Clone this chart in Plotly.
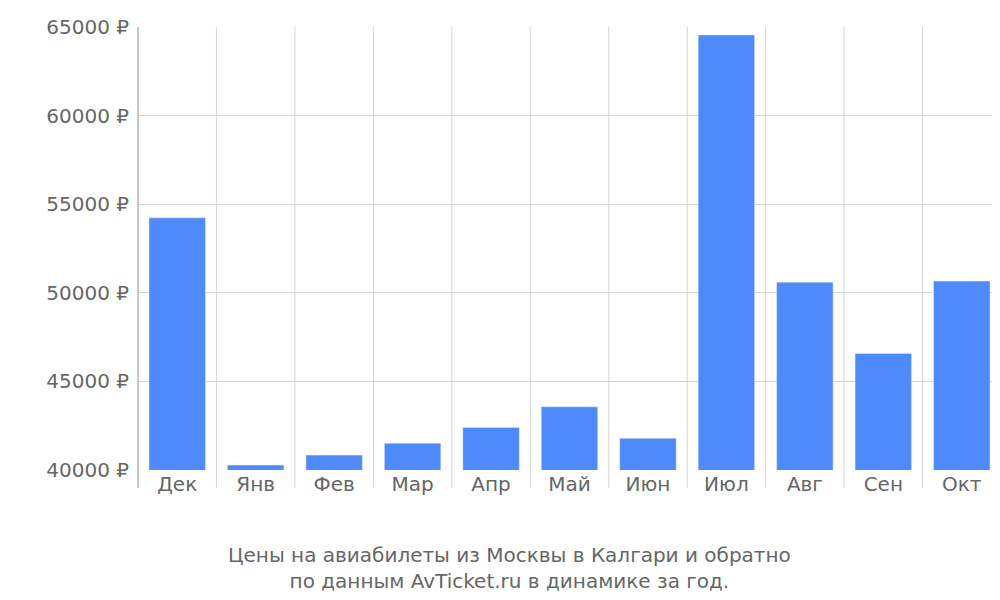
import plotly.graph_objects as go

months = ['Дек', 'Янв', 'Фев', 'Мар', 'Апр', 'Май', 'Июн', 'Июл', 'Авг', 'Сен', 'Окт']
prices = [54230, 40280, 40840, 41510, 42400, 43570, 41790, 64550, 50600, 46580, 50660]
y_ticks = [40000, 45000, 50000, 55000, 60000, 65000]

fig = go.Figure(go.Bar(x=months, y=prices, marker_color='#4e8af9', width=0.72))

# vertical grid lines between categories, extending below the plot as ticks
shapes = []
for i in range(len(months) + 1):
    shapes.append(dict(type='line', xref='x', yref='paper', x0=i - 0.5, x1=i - 0.5,
                       y0=-0.04, y1=1, line=dict(color='#d5d5d5', width=1), layer='below'))
shapes.append(dict(type='line', xref='paper', yref='paper', x0=0, x1=0, y0=-0.04, y1=1,
                   line=dict(color='#999999', width=1)))

fig.update_layout(
    width=1000, height=600,
    margin=dict(l=130, r=7, t=14, b=138),
    plot_bgcolor='white', paper_bgcolor='white',
    font=dict(family='DejaVu Sans', size=20, color='#666666'),
    showlegend=False,
    shapes=shapes,
    xaxis=dict(showgrid=False, ticks='', tickfont=dict(size=20), range=[-0.5, 10.5]),
    yaxis=dict(range=[40000, 65000], tickvals=y_ticks,
               ticktext=[f'{v} ₽' for v in y_ticks], gridcolor='#d5d5d5',
               zeroline=False, ticks='', ticklabelstandoff=8),
    annotations=[dict(text='Цены на авиабилеты из Москвы в Калгари и обратно<br>по данным AvTicket.ru в динамике за год.',
                      xref='paper', yref='paper', x=0.43, y=-0.16, yanchor='top',
                      showarrow=False, font=dict(size=20, color='#666666'))],
)

fig.write_html('out.html')
